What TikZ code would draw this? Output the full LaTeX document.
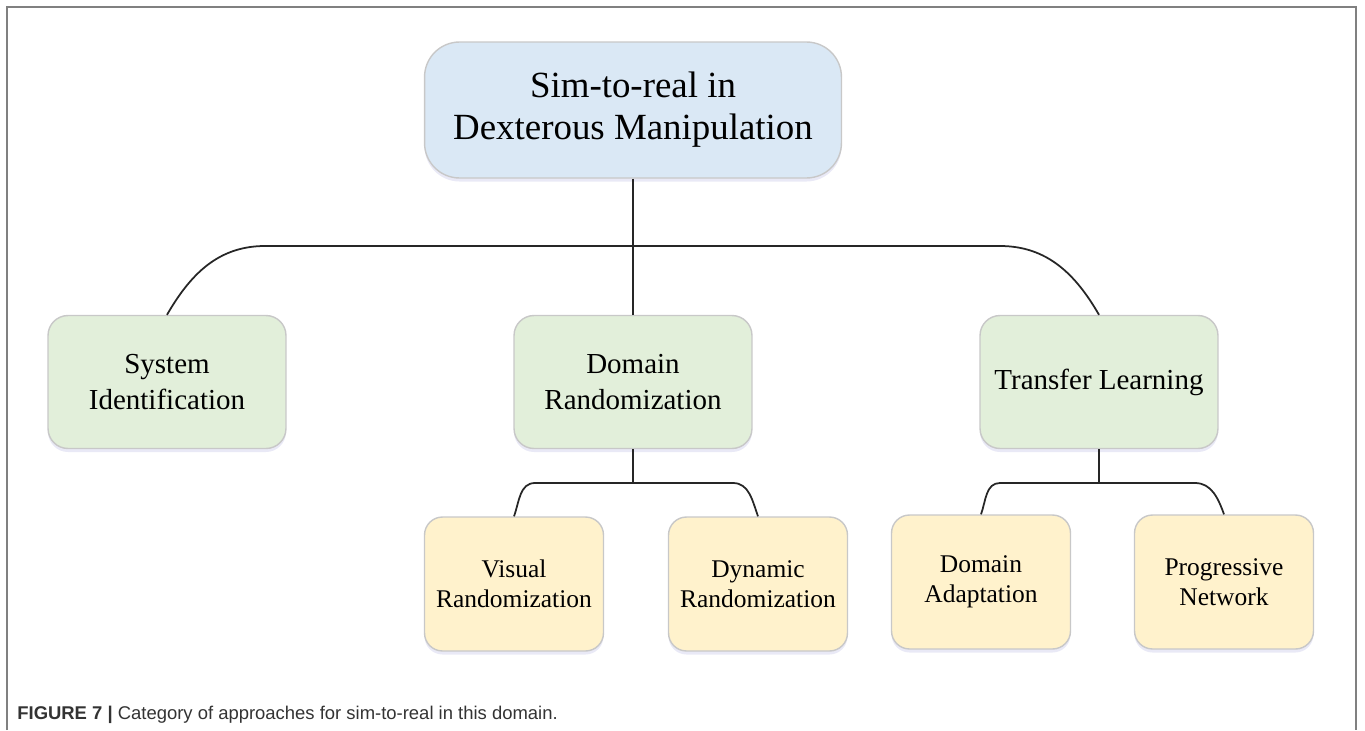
\documentclass[tikz,border=0pt]{standalone}
\usepackage{fontspec}
\setmainfont{Liberation Serif}
\newfontfamily\capfont{Liberation Sans}
\usetikzlibrary{shadows}
\definecolor{rootBlue}{RGB}{218,232,245}
\definecolor{midGreen}{RGB}{226,239,218}
\definecolor{leafYellow}{RGB}{255,242,204}
\definecolor{edgeGrey}{RGB}{200,200,200}
\definecolor{frameGrey}{RGB}{128,128,128}

\begin{document}
\begin{tikzpicture}[x=0.02cm, y=-0.02cm,
    base/.style={rectangle, draw=edgeGrey, line width=0.8pt, align=center,
      drop shadow={shadow xshift=0pt, shadow yshift=-2pt, opacity=0.12, fill=blue!40!gray}},
    rootbox/.style={base, fill=rootBlue, rounded corners=0.7cm, minimum width=8.34cm, minimum height=2.72cm, font=\fontsize{21}{24}\selectfont},
    midbox/.style={base, fill=midGreen, rounded corners=0.4cm, minimum width=4.76cm, minimum height=2.66cm, font=\fontsize{16.5}{20}\selectfont},
    leafbox/.style={base, fill=leafYellow, rounded corners=0.36cm, minimum width=3.58cm, minimum height=2.68cm, font=\fontsize{14.5}{17}\selectfont},
    link/.style={line width=1pt, black!85}
]
\useasboundingbox (0,0) rectangle (1365,730);
\draw[frameGrey, line width=1.2pt] (7,730) -- (7,7) -- (1356,7) -- (1356,730);

\node[rootbox] (root) at (633,110) {Sim-to-real in\\Dexterous Manipulation};
\node[midbox] (sysid) at (167,382) {System\\Identification};
\node[midbox] (domrand) at (633,382) {Domain\\Randomization};
\node[midbox] (translearn) at (1099,382) {Transfer Learning};
\node[leafbox] (visual) at (514,584) {Visual\\Randomization};
\node[leafbox] (dynamic) at (758,584) {Dynamic\\Randomization};
\node[leafbox] (adapt) at (981,582) {Domain\\Adaptation};
\node[leafbox] (prognet) at (1224,582) {Progressive\\Network};

\coordinate (topL) at (265,246);
\coordinate (topR) at (1000,246);
\coordinate (drL) at (535,483);
\coordinate (drR) at (733,483);
\coordinate (tlL) at (1000,483);
\coordinate (tlR) at (1195,483);

\draw[link] (root) -- (domrand);
\draw[link] (sysid.north) to[out=60, in=180] (topL) -- (topR) to[out=0, in=120] (translearn.north);
\draw[link] (domrand.south) -- (domrand.south |- drL);
\draw[link] (visual.north) to[out=70, in=180] (drL) -- (drR) to[out=0, in=110] (dynamic.north);
\draw[link] (translearn.south) -- (translearn.south |- tlL);
\draw[link] (adapt.north) to[out=70, in=180] (tlL) -- (tlR) to[out=0, in=110] (prognet.north);

\node[anchor=base west, inner sep=0pt, text=black!80, font=\capfont\fontsize{10.5}{12}\selectfont] (caption) at (17,719)
  {\textbf{FIGURE 7 |} Category of approaches for sim-to-real in this domain.};
\end{tikzpicture}
\end{document}
